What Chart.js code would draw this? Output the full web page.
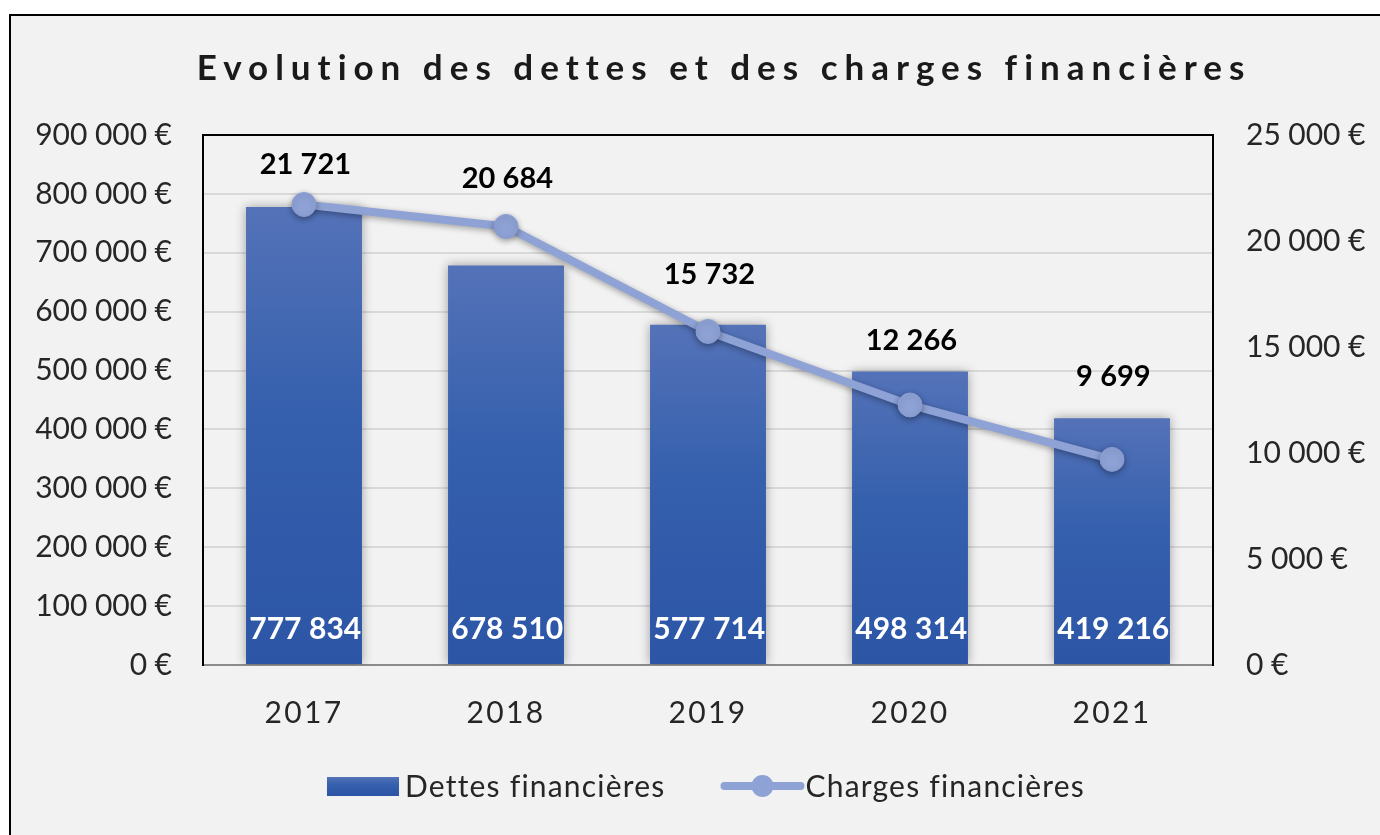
<!DOCTYPE html>
<html><head><meta charset="utf-8">
<script src="https://cdn.jsdelivr.net/npm/chart.js@4.4.1/dist/chart.umd.min.js"></script>
<style>
html,body{margin:0;padding:0;background:#fff;overflow:hidden;width:1380px;height:835px;}
#frame{position:absolute;left:9px;top:14px;width:1400px;height:900px;border:2px solid #000;background:#f2f2f2;}
#wrap{position:absolute;left:0;top:0;width:1380px;height:835px;}
</style></head><body>
<div id="frame"></div>
<div id="wrap"><canvas id="c" width="1380" height="835"></canvas></div>
<script>
const categories = ['2017', '2018', '2019', '2020', '2021'];
const dettes = [777834, 678510, 577714, 498314, 419216];
const charges = [21721, 20684, 15732, 12266, 9699];
const leftTickLabels = ['0\u202F€', '100\u202F000\u202F€', '200\u202F000\u202F€', '300\u202F000\u202F€', '400\u202F000\u202F€', '500\u202F000\u202F€', '600\u202F000\u202F€', '700\u202F000\u202F€', '800\u202F000\u202F€', '900\u202F000\u202F€'];
const rightTickLabels = ['0\u202F€', '5\u202F000\u202F€', '10\u202F000\u202F€', '15\u202F000\u202F€', '20\u202F000\u202F€', '25\u202F000\u202F€'];
const legendLabels = ['Dettes financières', 'Charges financières'];
const titleText = 'Evolution des dettes et des charges financières';

const FONT = "Lato, 'Open Sans', sans-serif";
const LINE_COLOR = '#8ea2d6';
const fmt = v => v.toLocaleString('fr-FR').replace(/\s/g, '\u202F');

function barGrad(ctx, top, base) {
  if (!isFinite(top) || !isFinite(base) || top === base) return '#3560ad';
  const g = ctx.createLinearGradient(0, top, 0, base);
  g.addColorStop(0, '#5472b8');
  g.addColorStop(0.45, '#3560ad');
  g.addColorStop(1, '#2c55a6');
  return g;
}

function spacedText(ctx, text, x, y, spacing) {
  ctx.letterSpacing = spacing + 'px';
  const adj = ctx.textAlign === 'center' ? spacing / 2 : 0;
  ctx.fillText(text, x + adj, y);
  ctx.letterSpacing = '0px';
}

const decorPlugin = {
  id: 'decor',
  beforeDraw(chart) {
    chart.ctx.letterSpacing = '2.3px';
  },
  beforeDatasetsDraw(chart) {
    chart.ctx.letterSpacing = '0px';
  },
  beforeDatasetDraw(chart, args) {
    const ctx = chart.ctx;
    ctx.save();
    ctx.shadowColor = 'rgba(0,0,0,0.35)';
    ctx.shadowBlur = args.index === 1 ? 10 : 6;
    ctx.shadowOffsetX = 0;
    ctx.shadowOffsetY = args.index === 1 ? 0 : 2;
  },
  afterDatasetDraw(chart) {
    chart.ctx.restore();
  },
  afterDraw(chart) {
    const ctx = chart.ctx;
    const a = chart.chartArea;
    ctx.save();
    ctx.letterSpacing = '0px';
    ctx.strokeStyle = '#000';
    ctx.lineWidth = 2;
    ctx.beginPath();
    ctx.moveTo(a.left - 1, a.top);
    ctx.lineTo(a.right + 1, a.top);
    ctx.stroke();

    // bar value labels
    const barMeta = chart.getDatasetMeta(1);
    ctx.fillStyle = '#fff';
    ctx.font = `bold 30px ${FONT}`;
    ctx.textAlign = 'center';
    ctx.textBaseline = 'alphabetic';
    barMeta.data.forEach((el, i) => {
      spacedText(ctx, fmt(dettes[i]), el.x, el.base - 25, 2.5);
    });

    // line value labels
    const lineMeta = chart.getDatasetMeta(0);
    const offs = [31, 38, 47, 55, 73];
    ctx.fillStyle = '#000';
    ctx.font = `bold 29px ${FONT}`;
    lineMeta.data.forEach((el, i) => {
      spacedText(ctx, fmt(charges[i]), el.x, el.y - offs[i], 2.7);
    });

    // title
    ctx.font = `bold 35px ${FONT}`;
    ctx.fillStyle = '#1a1a1a';
    spacedText(ctx, titleText, 720.5, 80, 7);

    // legend
    ctx.font = `30px ${FONT}`;
    ctx.textAlign = 'left';
    const sp = 1.2;
    ctx.letterSpacing = sp + 'px';
    const w1 = ctx.measureText(legendLabels[0]).width;
    const w2 = ctx.measureText(legendLabels[1]).width;
    ctx.letterSpacing = '0px';
    const box = 72, g1 = 6, g2 = 55, lw = 84, g3 = 1;
    const total = box + g1 + w1 + g2 + lw + g3 + w2;
    let x = 706 - total / 2;
    const y = 786;
    ctx.fillStyle = barGrad(ctx, y - 9, y + 9);
    ctx.fillRect(x, y - 9, box, 19);
    x += box + g1;
    ctx.fillStyle = '#262626';
    spacedText(ctx, legendLabels[0], x, 797, sp);
    x += w1 + g2;
    ctx.strokeStyle = LINE_COLOR;
    ctx.lineWidth = 8;
    ctx.lineCap = 'round';
    ctx.beginPath();
    ctx.moveTo(x + 4, y);
    ctx.lineTo(x + lw - 4, y);
    ctx.stroke();
    ctx.fillStyle = LINE_COLOR;
    ctx.beginPath();
    ctx.arc(x + lw / 2, y, 11, 0, Math.PI * 2);
    ctx.fill();
    x += lw + g3;
    ctx.fillStyle = '#262626';
    spacedText(ctx, legendLabels[1], x, 797, sp);
    ctx.restore();
  }
};

Chart.defaults.font.family = FONT;
Chart.defaults.color = '#262626';

new Chart(document.getElementById('c'), {
  data: {
    labels: categories,
    datasets: [
      {
        type: 'line', label: legendLabels[1], data: charges, yAxisID: 'y1',
        borderColor: LINE_COLOR, backgroundColor: LINE_COLOR, borderWidth: 8,
        pointRadius: 12, pointHoverRadius: 12, pointBackgroundColor: LINE_COLOR,
        pointBorderColor: '#889dd2', pointBorderWidth: 1, tension: 0, order: 1,
        borderJoinStyle: 'round', borderCapStyle: 'round'
      },
      {
        type: 'bar', label: legendLabels[0], data: dettes, yAxisID: 'y',
        backgroundColor: (c) => {
          const s = c.chart.scales.y;
          if (!s || c.raw === undefined) return '#3560ad';
          return barGrad(c.chart.ctx, s.getPixelForValue(c.raw), s.getPixelForValue(0));
        },
        barPercentage: 0.574, categoryPercentage: 1, order: 2, borderWidth: 0
      }
    ]
  },
  options: {
    responsive: false, animation: false, events: [],
    layout: { padding: { top: 135, left: 0, right: 0, bottom: 0 } },
    plugins: { legend: { display: false }, title: { display: false }, tooltip: { enabled: false } },
    scales: {
      x: {
        grid: { display: false, drawTicks: false },
        border: { color: '#8c8c8c', width: 2 },
        ticks: { padding: 30, font: { size: 30 }, color: '#262626' },
        afterFit(s) { s.height = 170; }
      },
      y: {
        position: 'left', min: 0, max: 900000,
        ticks: { stepSize: 100000, padding: 31, font: { size: 30 }, color: '#262626',
                 callback: (v, i) => leftTickLabels[i] },
        grid: { color: '#d9d9d9', lineWidth: 2, drawTicks: false },
        border: { color: '#000', width: 2 },
        afterFit(s) { s.width = 203; }
      },
      y1: {
        position: 'right', min: 0, max: 25000,
        ticks: { stepSize: 5000, padding: 33, font: { size: 30 }, color: '#262626',
                 callback: (v, i) => rightTickLabels[i] },
        grid: { display: false, drawTicks: false },
        border: { color: '#000', width: 2 },
        afterFit(s) { s.width = 167; }
      }
    }
  },
  plugins: [decorPlugin]
});
</script>
</body></html>
